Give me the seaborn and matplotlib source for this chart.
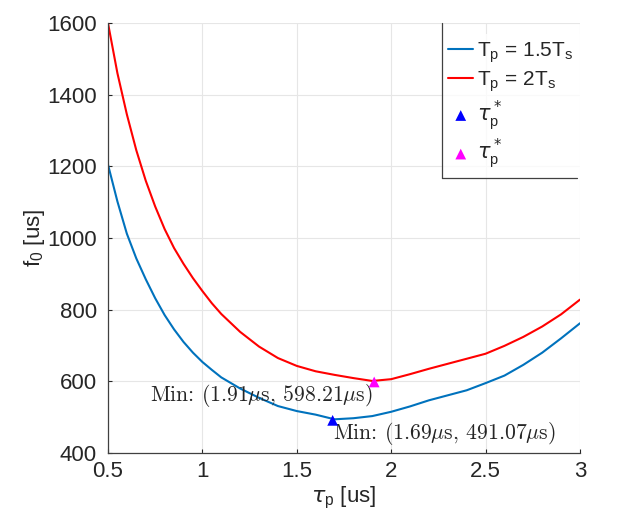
import numpy as np
import pandas as pd
import matplotlib
matplotlib.use("Agg")
import matplotlib.pyplot as plt
from matplotlib.lines import Line2D
import seaborn as sns

# values
tau_p = [0.5, 0.55, 0.6, 0.65, 0.7, 0.75, 0.8, 0.85, 0.9, 0.95, 1.0, 1.05,
         1.1, 1.2, 1.3, 1.4, 1.5, 1.6, 1.7, 1.8, 1.9, 2.0, 2.1, 2.2, 2.3,
         2.4, 2.5, 2.6, 2.7, 2.8, 2.9, 3.0]
f0_15 = [1205, 1102, 1012, 943, 885, 832, 785, 745, 710, 680, 654, 632,
         611, 580, 554, 531, 517, 507, 494, 497, 503, 515, 530, 547, 561,
         575, 595, 616, 646, 680, 720, 762]
f0_2 = [1600, 1460, 1345, 1245, 1160, 1088, 1025, 972, 928, 888, 852, 818,
        788, 738, 697, 665, 643, 628, 618, 609, 601, 606, 620, 635, 649,
        663, 677, 699, 724, 753, 787, 828]
min_15 = (1.69, 491.07)
min_2 = (1.91, 598.21)

df = pd.DataFrame({"tau": tau_p, "a": f0_15, "b": f0_2})

sns.set_style("whitegrid")
plt.rcParams["font.family"] = ["Liberation Sans", "DejaVu Sans"]

fig = plt.figure(figsize=(6.17, 5.29), dpi=100)
ax = fig.add_axes([0.175, 0.1437, 0.765, 0.8128])

sns.lineplot(data=df, x="tau", y="a", ax=ax, color="#0072BD", lw=1.5,
             label=r"T$_\mathregular{p}$ = 1.5T$_\mathregular{s}$")
sns.lineplot(data=df, x="tau", y="b", ax=ax, color="#FF0000", lw=1.5,
             label=r"T$_\mathregular{p}$ = 2T$_\mathregular{s}$")
sns.scatterplot(x=[min_15[0]], y=[min_15[1]], ax=ax, marker="^", s=60,
                color="#0000FF", edgecolor="none", zorder=5,
                label=r"$\tau_\mathregular{p}^*$")
sns.scatterplot(x=[min_2[0]], y=[min_2[1]], ax=ax, marker="^", s=60,
                color="#FF00FF", edgecolor="none", zorder=5,
                label=r"$\tau_\mathregular{p}^*$")

# annotations in computer modern like the latex text of the original
ax.text(min_2[0] - 0.005, 561, "Min: (%.2f$\\mu$s, %.2f$\\mu$s)" % min_2,
        ha="right", va="center", fontsize=15.6, family="cmr10",
        math_fontfamily="cm")
ax.text(min_15[0], 455, "Min: (%.2f$\\mu$s, %.2f$\\mu$s)" % min_15,
        ha="left", va="center", fontsize=15.6, family="cmr10",
        math_fontfamily="cm")

ax.set_xlim(0.5, 3)
ax.set_ylim(400, 1600)
ax.set_xticks([0.5, 1, 1.5, 2, 2.5, 3])
ax.set_xticklabels(["0.5", "1", "1.5", "2", "2.5", "3"])
ax.set_yticks(range(400, 1601, 200))
ax.tick_params(labelsize=16, colors="#262626", direction="in", length=3,
               left=True, bottom=True)
ax.tick_params(axis="y", pad=8)
ax.tick_params(axis="x", pad=6)
ax.set_xlabel(r"$\tau_\mathregular{p}$ [us]", fontsize=16, color="#262626", labelpad=2)
ax.set_ylabel(r"f$_\mathregular{0}$ [us]", fontsize=16, color="#262626", labelpad=0)
ax.grid(True, color="#e6e6e6", lw=0.8)
for s in ["top", "right"]:
    ax.spines[s].set_visible(False)
for s in ["left", "bottom"]:
    ax.spines[s].set_color("#404040")
    ax.spines[s].set_linewidth(0.9)

leg = ax.legend(loc="upper right", bbox_to_anchor=(1.0, 0.974), fontsize=15,
                frameon=True, fancybox=False, handlelength=1.2,
                labelspacing=0.2, handletextpad=0.2, borderpad=0.3,
                borderaxespad=0.0)
leg.get_frame().set_edgecolor("none")
leg.get_frame().set_facecolor("white")

# the original legend box only shows its left and bottom edges
fig.canvas.draw()
bb = leg.get_window_extent().transformed(fig.transFigure.inverted())
top = ax.get_position().y1
fig.add_artist(Line2D([bb.x0, bb.x0], [bb.y0, top], color="#404040", lw=0.9))
fig.add_artist(Line2D([bb.x0, bb.x1 - 0.005], [bb.y0, bb.y0], color="#404040", lw=0.9))

plt.savefig("out.png", dpi=100)
plt.close()
